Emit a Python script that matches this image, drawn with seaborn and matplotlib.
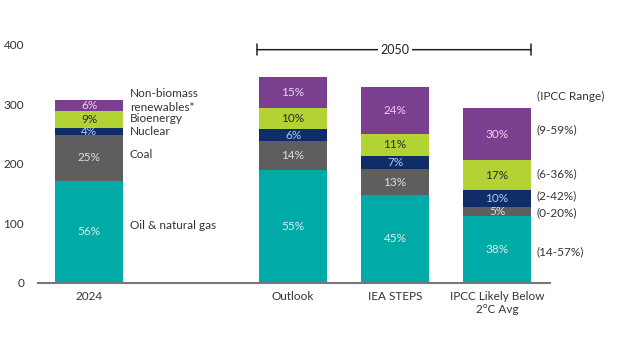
import matplotlib
matplotlib.use("Agg")
import matplotlib.pyplot as plt
import numpy as np
import pandas as pd
import seaborn as sns

# scenario columns (a blank spacer sits between 2024 and the 2050 group)
scenarios = ["2024", "", "Outlook", "IEA STEPS", "IPCC Likely Below\n2°C Avg"]
bar_scenarios = ["2024", "Outlook", "IEA STEPS", "IPCC Likely Below\n2°C Avg"]

sources = ["Oil & natural gas", "Coal", "Nuclear", "Bioenergy", "Non-biomass renewables*"]

# energy by source (bottom to top)
oil = [172, 190, 148, 112]
coal = [77, 48, 43, 15]
nuclear = [12, 21, 23, 29]
bioenergy = [28, 35, 36, 50]
renewables = [18, 52, 79, 88]

oil_pct = ["56%", "55%", "45%", "38%"]
coal_pct = ["25%", "14%", "13%", "5%"]
nuclear_pct = ["4%", "6%", "7%", "10%"]
bioenergy_pct = ["9%", "10%", "11%", "17%"]
renewables_pct = ["6%", "15%", "24%", "30%"]

ipcc_ranges = ["(14-57%)", "(0-20%)", "(2-42%)", "(6-36%)", "(9-59%)"]
ipcc_range_y = [52, 118, 146, 183, 257]

left_labels = ["Oil & natural gas", "Coal", "Nuclear", "Bioenergy", "renewables*", "Non-biomass"]
left_label_y = [96, 215, 255, 276, 294, 318]

colors = ["#00aaa6", "#5e5e5e", "#0f2d69", "#b3d335", "#7b3f8f"]
text_colors = ["#d2f3f0", "#dcdcdc", "#a9cdf2", "#2b2b2b", "#ecd0f2"]

layers = [oil, coal, nuclear, bioenergy, renewables]
pcts = [oil_pct, coal_pct, nuclear_pct, bioenergy_pct, renewables_pct]

df = pd.DataFrame({"scenario": bar_scenarios})
for name, vals in zip(sources, layers):
    df[name] = vals
cum = df[sources].cumsum(axis=1)

sns.set_style("white")
plt.rcParams["font.family"] = ["Lato", "DejaVu Sans"]

fig = plt.figure(figsize=(6.24, 3.51), dpi=100)
ax = fig.add_axes([0.061, 0.194, 0.8205, 0.678])

width = 0.67
# draw the stack from the top down so each layer covers the one above it
for i in reversed(range(len(sources))):
    plot_df = pd.DataFrame({"scenario": bar_scenarios, "value": cum[sources[i]]})
    sns.barplot(data=plot_df, x="scenario", y="value", order=scenarios,
                color=colors[i], saturation=1, width=width, ax=ax,
                linewidth=0, edgecolor="none")

pos = {s: k for k, s in enumerate(scenarios)}
for i, src in enumerate(sources):
    bottoms = cum[src] - df[src]
    for j, s in enumerate(bar_scenarios):
        ax.text(pos[s], bottoms[j] + df[src][j] / 2, pcts[i][j], ha="center", va="center",
                fontsize=8.5, color=text_colors[i])

for lbl, y in zip(left_labels, left_label_y):
    ax.text(0.40, y, lbl, ha="left", va="center", fontsize=8.5, color="#333333")

ax.text(4.39, 313, "(IPCC Range)", ha="left", va="center", fontsize=8.5, color="#333333", clip_on=False)
for lbl, y in zip(ipcc_ranges, ipcc_range_y):
    ax.text(4.39, y, lbl, ha="left", va="center", fontsize=8.5, color="#333333", clip_on=False)

# 2050 bracket
ax.annotate("", xy=(2 - width / 2 - 0.02, 392), xytext=(4 + width / 2, 392),
            arrowprops=dict(arrowstyle="|-|", color="#222222", lw=1.1,
                            mutation_scale=4, shrinkA=0, shrinkB=0),
            annotation_clip=False)
ax.text(3.0, 392, "2050", ha="center", va="center", fontsize=9, color="#222222",
        bbox=dict(facecolor="white", edgecolor="none", pad=1.5))

ax.set_xlim(-0.5, 4.52)
ax.set_ylim(0, 400)
ax.set_yticks([0, 100, 200, 300, 400])
ax.set_xlabel("")
ax.set_ylabel("")
ax.tick_params(axis="both", length=0, labelsize=8.5, labelcolor="#333333")
ax.tick_params(axis="y", pad=10)
ax.tick_params(axis="x", pad=6)
for side in ["left", "right", "top"]:
    ax.spines[side].set_visible(False)
ax.spines["bottom"].set_color("#777777")
ax.spines["bottom"].set_linewidth(1.5)
ax.grid(False)

fig.savefig("out.png", dpi=100)
